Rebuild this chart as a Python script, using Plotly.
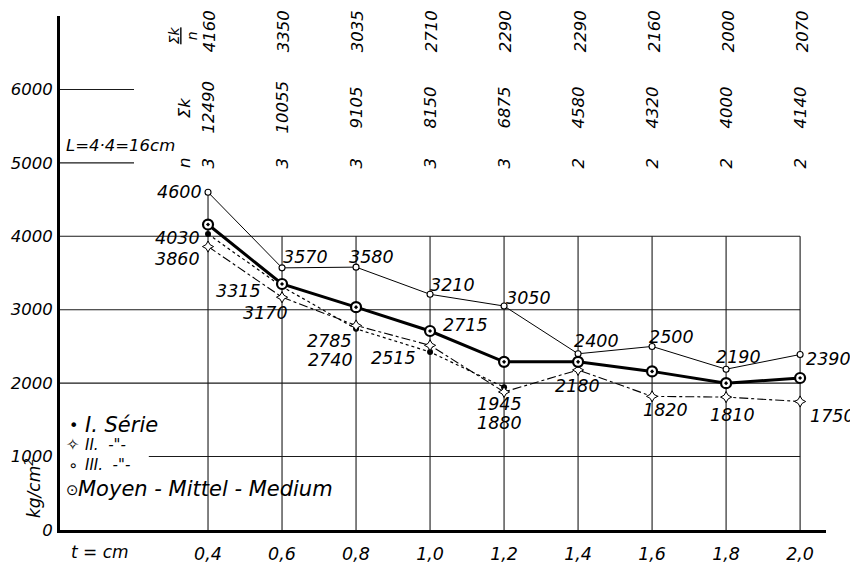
import plotly.graph_objects as go

# ---------------- data ----------------
t = [0.4, 0.6, 0.8, 1.0, 1.2, 1.4, 1.6, 1.8, 2.0]
t_labels = ["0,4", "0,6", "0,8", "1,0", "1,2", "1,4", "1,6", "1,8", "2,0"]
serie_1 = [4030, 3315, 2740, 2425, 1945, None, None, None, None]
serie_2 = [3860, 3170, 2785, 2515, 1880, 2180, 1820, 1810, 1750]
serie_3 = [4600, 3570, 3580, 3210, 3050, 2400, 2500, 2190, 2390]
medium = [4160, 3350, 3035, 2710, 2290, 2290, 2160, 2000, 2070]
medium_note = "2715"
n_count = [3, 3, 3, 3, 3, 2, 2, 2, 2]
sum_k = [12490, 10055, 9105, 8150, 6875, 4580, 4320, 4000, 4140]
y_ticks = [0, 1000, 2000, 3000, 4000, 5000, 6000]

FONT = "DejaVu Sans"
BLACK = "black"

fig = go.Figure()

# ---------------- grid (partial, as drawn) ----------------
grid_col = "#1a1a1a"
for v in y_ticks[1:]:
    if v >= 5000:
        x0, x1 = 0, 0.2
    elif v == 1000:
        x0, x1 = 0.24, t[-1]
    else:
        x0, x1 = 0, t[-1]
    fig.add_shape(type="line", xref="x", yref="y", x0=x0, x1=x1, y0=v, y1=v,
                  line=dict(color=grid_col, width=1.1), layer="below")
for i, tv in enumerate(t):
    top = serie_3[0] if i == 0 else 4000
    fig.add_shape(type="line", xref="x", yref="y", x0=tv, x1=tv, y0=0, y1=top,
                  line=dict(color=grid_col, width=1.1), layer="below")

# ---------------- series ----------------
fig.add_trace(go.Scatter(x=t, y=serie_1, mode="lines+markers", connectgaps=False,
                         line=dict(color=BLACK, width=1.2, dash="dot"),
                         marker=dict(symbol="circle", size=6, color=BLACK),
                         showlegend=False))
fig.add_trace(go.Scatter(x=t, y=serie_2, mode="lines+markers",
                         line=dict(color=BLACK, width=1.1, dash="dashdot"),
                         marker=dict(symbol="star-diamond", size=8, color="white",
                                     line=dict(color=BLACK, width=1)),
                         showlegend=False))
fig.add_trace(go.Scatter(x=t, y=serie_3, mode="lines+markers",
                         line=dict(color=BLACK, width=1.0),
                         marker=dict(symbol="circle", size=6, color="white",
                                     line=dict(color=BLACK, width=1.1)),
                         showlegend=False))
fig.add_trace(go.Scatter(x=t, y=medium, mode="lines+markers",
                         line=dict(color=BLACK, width=3),
                         marker=dict(symbol="circle-dot", size=10, color="white",
                                     line=dict(color=BLACK, width=2.2)),
                         showlegend=False))

annotations = []
LAB = 17.5

def lab(x, y, text, xanchor="center", xs=0, ys=0, size=LAB):
    annotations.append(dict(x=x, y=y, xref="x", yref="y", text=text, showarrow=False,
                            xanchor=xanchor, yanchor="middle", xshift=xs, yshift=ys,
                            font=dict(size=size, family=FONT, color=BLACK, style="italic")))

# label placement (xanchor, xshift, yshift) per point; None = no label
off_1 = [("right", -6, -4), ("right", -19, -4), ("right", -1, -31), None, ("center", -5, -17),
         None, None, None, None]
off_2 = [("right", -6, -12), ("right", 8, -16), ("right", -2, -15), ("right", -12, -13),
         ("center", -5, -31), ("center", -1, -16), ("center", 13, -14), ("center", 6, -18),
         ("left", 8, -14)]
off_3 = [("right", -4, 0), ("left", -1, 11), ("left", -9, 10), ("left", -2, 9), ("left", 0, 8),
         ("left", -6, 13), ("left", -5, 9), ("left", -12, 12), ("left", 4, -4)]

for series, offs in ((serie_1, off_1), (serie_2, off_2), (serie_3, off_3)):
    for tv, v, o in zip(t, series, offs):
        if v is None or o is None:
            continue
        lab(tv, v, str(v), o[0], o[1], o[2])
lab(t[3], medium[3], medium_note, "left", 11, 6)

# ---------------- table at top (rotated) ----------------
def rot(x, y, text, size=16.5):
    annotations.append(dict(x=x, y=y, xref="x", yref="y", text=text, showarrow=False,
                            textangle=-90, xanchor="center", yanchor="middle",
                            font=dict(size=size, family=FONT, color=BLACK, style="italic")))

row_n, row_sum, row_mean = 4993, 5755, 6790
for tv, nv, sv, mv in zip(t, n_count, sum_k, medium):
    rot(tv, row_n, str(nv))
    rot(tv, row_sum, str(sv))
    rot(tv + 0.005, row_mean, str(mv))
hdr_x = 0.337
rot(hdr_x, row_n, "n")
rot(hdr_x, row_sum, "Σk")
rot(0.333, 6740, "<u>Σk</u><br>n", size=14)

# ---------------- other texts ----------------
def txt(x, y, text, size=16, xanchor="left"):
    annotations.append(dict(x=x, y=y, xref="x", yref="y", text=text, showarrow=False,
                            xanchor=xanchor, yanchor="middle",
                            font=dict(size=size, family=FONT, color=BLACK, style="italic")))

txt(0.012, 5238, "L=4·4=16cm", 16.5)

# legend
txt(0.018, 1430, "•", 16)
txt(0.062, 1430, "I. Série", 21)
txt(0.010, 1165, "✧", 16)
txt(0.062, 1160, "II.  -\"-", 15)
txt(0.016, 885, "∘", 16)
txt(0.062, 885, "III.  -\"-", 15)
txt(0.010, 545, "⊙", 15)
txt(0.042, 555, "Moyen - Mittel - Medium", 21)

# texts outside the plotting area (paper coordinates)
annotations.append(dict(x=-0.035, y=0.082, xref="paper", yref="paper", text="kg/cm<sup>2</sup>",
                        showarrow=False, textangle=-90, xanchor="center", yanchor="middle",
                        font=dict(size=17, family=FONT, color=BLACK, style="italic")))
annotations.append(dict(x=0.052, y=-0.043, xref="paper", yref="paper", text="t = cm",
                        showarrow=False, xanchor="center", yanchor="middle",
                        font=dict(size=17, family=FONT, color=BLACK, style="italic")))

# the page adds an 8 px body margin, so the figure is drawn 8 px smaller
fig.update_layout(
    width=850, height=557,
    margin=dict(l=52, r=32, t=8, b=35, autoexpand=False),
    paper_bgcolor="white", plot_bgcolor="white",
    font=dict(family=FONT, size=17, color=BLACK, style="italic"),
    annotations=annotations,
    showlegend=False,
)
fig.update_xaxes(range=[0, 2.07], showgrid=False, zeroline=False, automargin=False,
                 showline=True, linecolor=BLACK, linewidth=3,
                 tickvals=t, ticktext=t_labels, ticks="", ticklabelstandoff=6,
                 tickfont=dict(size=17.5, family=FONT, color=BLACK, style="italic"))
fig.update_yaxes(range=[0, 7000], showgrid=False, zeroline=False, automargin=False,
                 showline=True, linecolor=BLACK, linewidth=3,
                 tickvals=y_ticks, ticktext=[str(v) for v in y_ticks], ticks="",
                 ticklabelstandoff=1,
                 tickfont=dict(size=16.5, family=FONT, color=BLACK, style="italic"))

fig.write_html("out.html")
